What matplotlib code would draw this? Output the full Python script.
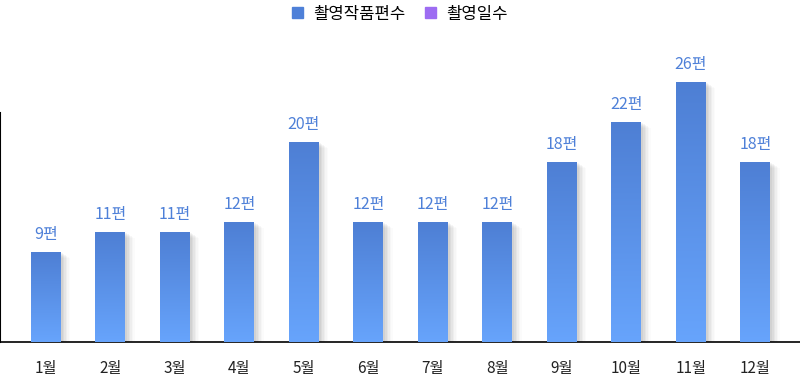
import numpy as np
import matplotlib.pyplot as plt
from matplotlib.colors import LinearSegmentedColormap
from matplotlib.patches import Patch, Rectangle
import matplotlib.transforms as mtransforms

plt.rcParams["font.family"] = ["Noto Sans CJK KR", "DejaVu Sans"]

months = ["1월", "2월", "3월", "4월", "5월", "6월", "7월", "8월", "9월", "10월", "11월", "12월"]
works = [9, 11, 11, 12, 20, 12, 12, 12, 18, 22, 26, 18]
legend_names = ["촬영작품편수", "촬영일수"]
legend_colors = ["#4e80d8", "#9d6cf2"]

fig = plt.figure(figsize=(8, 3.77), dpi=100)
ax = fig.add_axes([0, 35 / 377, 1, 300 / 377])

x = np.arange(len(months))
bars = ax.bar(x, works, width=0.465, color="none", zorder=3)

cmap = LinearSegmentedColormap.from_list("grad", ["#67a4fc", "#4e7fd4"])
grad = np.linspace(0, 1, 256).reshape(-1, 1)
for rect in bars:
    x0, w, h = rect.get_x(), rect.get_width(), rect.get_height()
    # soft shadow on the right side
    for i, a in enumerate([0.04, 0.04, 0.035, 0.03, 0.02, 0.015]):
        off = mtransforms.offset_copy(ax.transData, fig=fig, x=(i + 1) * 1.1, y=-(i + 1) * 0.7, units="points")
        ax.add_patch(Rectangle((x0, 0), w, h, transform=off, color="#000000", alpha=a, lw=0, zorder=2))
    ax.imshow(grad, cmap=cmap, origin="lower", aspect="auto",
              extent=[x0, x0 + w, 0, h], zorder=4)
    ax.text(rect.get_x() + w / 2, h + 0.95, f"{int(h)}편", ha="center", va="bottom",
            color="#4e80d8", fontsize=11.5, fontweight="medium", zorder=5)

ax.set_xlim(-0.713, 11.69)
ax.set_ylim(0, 30)
ax.set_xticks(x)
ax.set_xticklabels(months, fontsize=11, color="#222222")
ax.tick_params(axis="x", length=0, pad=13)
ax.set_yticks([])
for s in ["top", "right"]:
    ax.spines[s].set_visible(False)
ax.spines["left"].set_bounds(0, 22.9)
ax.spines["left"].set_linewidth(1.5)
ax.spines["bottom"].set_linewidth(1.2)

handles = [Patch(color=c) for c in legend_colors]
fig.legend(handles, legend_names, loc="upper center", bbox_to_anchor=(0.5, 1.025), ncol=2,
           frameon=False, fontsize=12, handlelength=0.65, handleheight=0.65,
           handletextpad=0.6, columnspacing=1.2)

fig.savefig("out.png", dpi=100)
